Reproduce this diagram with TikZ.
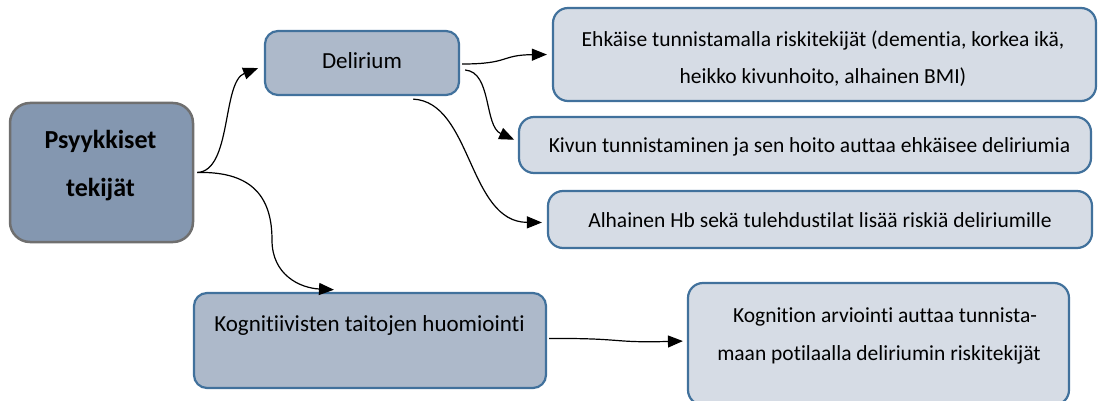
\documentclass[tikz,border=0pt]{standalone}
\usepackage{fontspec}
\setmainfont{Carlito}[Ligatures=CommonOff]
\usetikzlibrary{arrows.meta,calc}
\definecolor{rootfill}{HTML}{8497B0}
\definecolor{rootline}{HTML}{6F6F6F}
\definecolor{midfill}{HTML}{ADB9CA}
\definecolor{leaffill}{HTML}{D6DCE5}
\definecolor{boxline}{HTML}{41719C}
\tikzset{
  rootbox/.style={draw=rootline, fill=rootfill, line width=2.5pt, rounded corners=20pt, inner sep=0pt},
  midbox/.style={draw=boxline, fill=midfill, line width=2.2pt, rounded corners=13pt, inner sep=0pt},
  leafbox/.style={draw=boxline, fill=leaffill, line width=2.2pt, rounded corners=15pt, inner sep=0pt},
  line/.style={anchor=base, inner sep=0pt, font=\fontsize{21.5}{26}\selectfont},
  midline/.style={line, font=\fontsize{23}{28}\selectfont},
  rootline/.style={line, font=\fontsize{26}{31}\selectfont\bfseries},
  conn/.style={line width=1.2pt, -{Triangle[length=15pt,width=12pt]}, shorten >=3pt}
}
\begin{document}
\begin{tikzpicture}[x=1pt,y=-1pt]
\useasboundingbox (0,0) rectangle (1100,401);

% boxes
\node[rootbox, minimum width=183pt, minimum height=139pt] (psy) at (101.5,172.5) {};
\node[midbox, minimum width=194pt, minimum height=64pt] (del) at (362,63) {};
\node[leafbox, minimum width=543pt, minimum height=93pt] (ehk) at (824.5,54.5) {};
\node[leafbox, minimum width=572pt, minimum height=56pt] (kiv) at (805,145) {};
\node[leafbox, minimum width=544pt, minimum height=57pt] (alh) at (820,219.5) {};
\node[midbox, minimum width=352pt, minimum height=95pt] (kog) at (370,340.5) {};
\node[leafbox, minimum width=381pt, minimum height=122pt] (kogn) at (878.5,344) {};

% texts, one node per line, placed on their baselines
\node[rootline] (psy1) at (100.5,149) {Psyykkiset};
\node[rootline] (psy2) at (100.5,196) {tekijät};
\node[midline] (del1) at (362,69) {Delirium};
\node[line] (ehk1) at (823,47) {Ehkäise tunnistamalla riskitekijät (dementia, korkea ikä,};
\node[line] (ehk2) at (823,84) {heikko kivunhoito, alhainen BMI)};
\node[line] (kiv1) at (809.5,153) {Kivun tunnistaminen ja sen hoito auttaa ehkäisee deliriumia};
\node[line] (alh1) at (820,227) {Alhainen Hb sekä tulehdustilat lisää riskiä deliriumille};
\node[midline] (kog1) at (369.5,331) {Kognitiivisten taitojen huomiointi};
\node[line] (kogn1) at (885,322) {Kognition arviointi auttaa tunnista-};
\node[line] (kogn2) at (879,360) {maan potilaalla deliriumin riskitekijät};

% connectors
\draw[conn] ([xshift=3pt]psy.east) .. controls (232,171) and (222,82) .. ([xshift=-3pt,yshift=-4pt]del.west);
\draw[conn] ([xshift=3pt]psy.east) .. controls (255,171) and (272,200) .. (272,240)
            .. controls (272,275) and (300,288) .. ($(kog.north)+(-33,-2)$);
\draw[conn] ([xshift=2pt,yshift=-1pt]del.east) .. controls (510,64) and (500,55) .. ([xshift=-2pt]ehk.west);
\draw[conn] ([xshift=5pt,yshift=-7pt]del.east) .. controls (492,72) and (484,126) .. ([xshift=-1pt,yshift=4pt]kiv.west);
\draw[conn] ($(del.south east)+(-47,3)$) .. controls (472,102) and (468,222) .. ([xshift=-2pt,yshift=-3pt]alh.west);
\draw[conn] ([xshift=2pt,yshift=2pt]kog.east) .. controls (625,338) and (610,343) .. ([xshift=-1pt,yshift=3pt]kogn.west);
\end{tikzpicture}
\end{document}
